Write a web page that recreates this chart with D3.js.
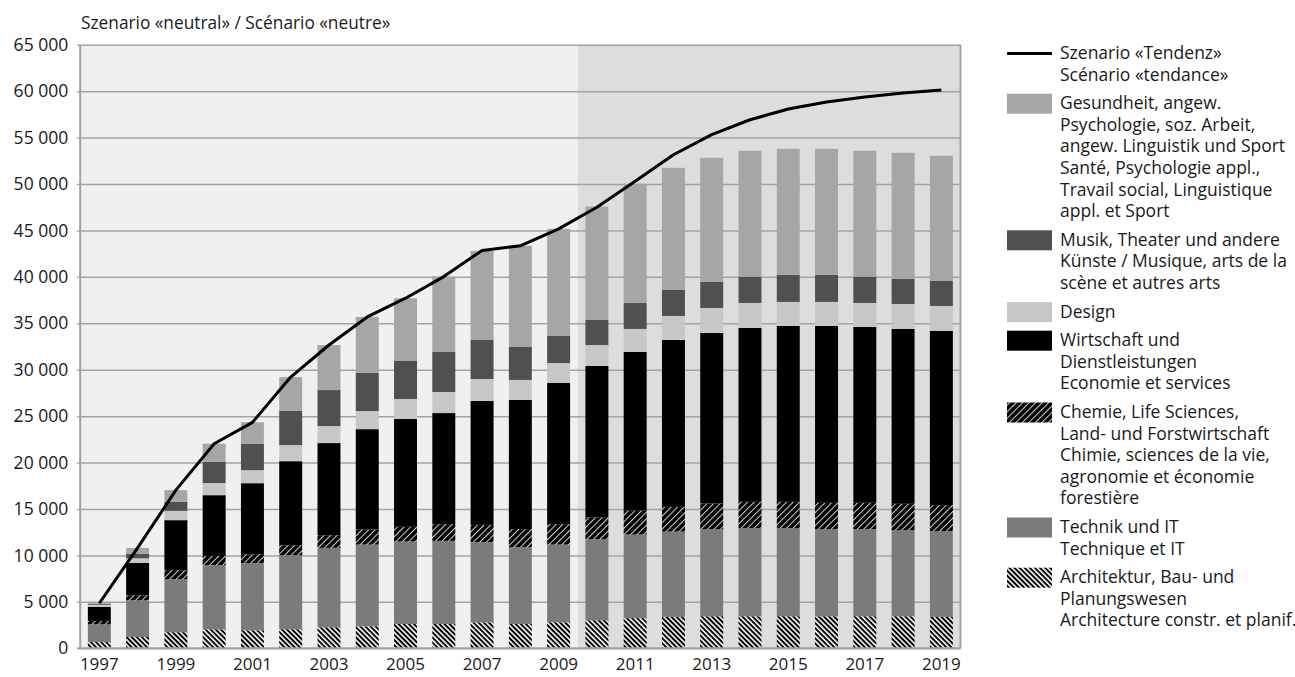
<!DOCTYPE html>
<html>
<head>
<meta charset="utf-8">
<script src="https://cdnjs.cloudflare.com/ajax/libs/d3/7.8.5/d3.min.js"></script>
<style>
    body { margin: 0; background: #ffffff; }
    text { font-family: "Open Sans", sans-serif; fill: #1a1a1a; }
</style>
</head>
<body>
<div id="chart"></div>
<script>
// years on the x axis
var years = ["1997", "1998", "1999", "2000", "2001", "2002", "2003", "2004", "2005", "2006", "2007", "2008",
    "2009", "2010", "2011", "2012", "2013", "2014", "2015", "2016", "2017", "2018", "2019"]
var yearLabels = ["1997", "1999", "2001", "2003", "2005", "2007", "2009", "2011", "2013", "2015", "2017", "2019"]
var yTicks = [0, 5000, 10000, 15000, 20000, 25000, 30000, 35000, 40000, 45000, 50000, 55000, 60000, 65000]

// stacked series, bottom to top
var architektur = [680, 1220, 1730, 2050, 1940, 2050, 2265, 2370, 2620, 2620, 2800, 2620,
    2800, 3020, 3250, 3380, 3450, 3450, 3450, 3450, 3450, 3450, 3380]
var technik = [1910, 3950, 5710, 6900, 7220, 7975, 8550, 8805, 8880, 8950, 8630, 8270,
    8375, 8730, 9010, 9200, 9380, 9490, 9490, 9380, 9380, 9270, 9230]
var chemie = [360, 540, 970, 1000, 970, 1075, 1365, 1615, 1580, 1800, 1860, 1940,
    2195, 2340, 2560, 2650, 2770, 2830, 2830, 2840, 2840, 2840, 2810]
var wirtschaft = [1510, 3480, 5390, 6540, 7650, 9050, 9920, 10810, 11610, 11960, 13340, 13910,
    15200, 16310, 17090, 17970, 18360, 18730, 18940, 19040, 18930, 18830, 18750]
var design = [230, 500, 1000, 1300, 1400, 1730, 1830, 1950, 2150, 2270, 2370, 2160,
    2150, 2260, 2480, 2590, 2690, 2690, 2590, 2590, 2590, 2690, 2700]
var musik = [110, 470, 970, 2300, 2830, 3680, 3880, 4110, 4100, 4310, 4200, 3550,
    2910, 2720, 2820, 2830, 2830, 2830, 2930, 2930, 2830, 2720, 2720]
var gesundheit = [90, 650, 1260, 1940, 2340, 3650, 4850, 6020, 6760, 8120, 9600, 10890,
    11540, 12190, 12810, 13120, 13340, 13560, 13560, 13560, 13560, 13560, 13450]

// scenario "Tendenz" line
var tendenz = [4850, 10810, 17030, 22030, 24330, 29210, 32660, 35680, 37700, 40030, 42850, 43340,
    45170, 47500, 50290, 53150, 55310, 56920, 58070, 58820, 59360, 59790, 60120]

var seriesKeys = ["architektur", "technik", "chemie", "wirtschaft", "design", "musik", "gesundheit"]
var seriesValues = [architektur, technik, chemie, wirtschaft, design, musik, gesundheit]
var seriesFill = {
    architektur: "url(#hatchArch)",
    technik: "#7b7b7b",
    chemie: "url(#hatchChem)",
    wirtschaft: "#000000",
    design: "#c6c7c6",
    musik: "#505050",
    gesundheit: "#a6a6a6"
}

// legend entries, top to bottom
var legendKeys = ["tendenz", "gesundheit", "musik", "design", "wirtschaft", "chemie", "technik", "architektur"]
var legendTexts = [
    ["Szenario «Tendenz»", "Scénario «tendance»"],
    ["Gesundheit, angew.", "Psychologie, soz. Arbeit,", "angew. Linguistik und Sport", "Santé, Psychologie appl.,", "Travail social, Linguistique", "appl. et Sport"],
    ["Musik, Theater und andere", "Künste / Musique, arts de la", "scène et autres arts"],
    ["Design"],
    ["Wirtschaft und", "Dienstleistungen", "Economie et services"],
    ["Chemie, Life Sciences,", "Land- und Forstwirtschaft", "Chimie, sciences de la vie,", "agronomie et économie", "forestière"],
    ["Technik und IT", "Technique et IT"],
    ["Architektur, Bau- und", "Planungswesen", "Architecture constr. et planif."]
]

var title = "Szenario «neutral» / Scénario «neutre»"
var firstForecast = "2010"

function draw() {
    var W = 1295, H = 677
    var left = 80.2, right = 960.5, top = 44.7, bottom = 648.3

    var svg = d3.select("#chart").append("svg")
        .attr("width", W)
        .attr("height", H)

    // hatch patterns
    var defs = svg.append("defs")
    var pa = defs.append("pattern")
        .attr("id", "hatchArch")
        .attr("patternUnits", "userSpaceOnUse")
        .attr("width", 3.6).attr("height", 10)
        .attr("patternTransform", "rotate(-45)")
    pa.append("rect").attr("width", 3.6).attr("height", 10).attr("fill", "#000")
    pa.append("rect").attr("x", 0).attr("width", 1.6).attr("height", 10).attr("fill", "#fff")

    var pc = defs.append("pattern")
        .attr("id", "hatchChem")
        .attr("patternUnits", "userSpaceOnUse")
        .attr("width", 4.6).attr("height", 10)
        .attr("patternTransform", "rotate(45)")
    pc.append("rect").attr("width", 4.6).attr("height", 10).attr("fill", "#000")
    pc.append("rect").attr("x", 0).attr("width", 1).attr("height", 10).attr("fill", "#d4d4d4")

    var x = d3.scaleBand().domain(years).range([left, right]).paddingInner(0.4).paddingOuter(0.2)
    var y = d3.scaleLinear().domain([0, 65000]).range([bottom, top])
    var gapHalf = (x.step() - x.bandwidth()) / 2

    // backgrounds: history and forecast
    var splitX = x(firstForecast) - gapHalf
    svg.append("rect").attr("x", left).attr("y", top).attr("width", splitX - left).attr("height", bottom - top).attr("fill", "#f0f0f0")
    svg.append("rect").attr("x", splitX).attr("y", top).attr("width", right - splitX).attr("height", bottom - top).attr("fill", "#dcdddc")

    // y axis + grid
    var fmt = function (d) { return d3.format(",")(d).replace(/,/g, " ") }
    var yAxis = svg.append("g")
        .attr("transform", "translate(" + left + ",0)")
        .call(d3.axisLeft(y).tickValues(yTicks).tickFormat(fmt).tickSizeInner(-(right - left)).tickSizeOuter(0).tickPadding(12))
    yAxis.select(".domain").remove()
    yAxis.selectAll(".tick line").attr("x1", -3).attr("stroke", "#a3a3a3").attr("stroke-width", 1.5)
    yAxis.selectAll(".tick text").style("font-size", "17.5px").attr("fill", "#1a1a1a")

    // stacked bars
    var table = years.map(function (yr, i) {
        var row = {year: yr}
        seriesKeys.forEach(function (k, j) { row[k] = seriesValues[j][i] })
        return row
    })
    var stack = d3.stack().keys(seriesKeys)(table)
    svg.append("g").selectAll("g")
        .data(stack)
        .join("g")
        .attr("fill", function (d) { return seriesFill[d.key] })
        .selectAll("rect")
        .data(function (d) { return d })
        .join("rect")
        .attr("x", function (d) { return x(d.data.year) })
        .attr("width", x.bandwidth())
        .attr("y", function (d) { return y(d[1]) })
        .attr("height", function (d) { return y(d[0]) - y(d[1]) })

    // frame: left axis, right border
    svg.append("line").attr("x1", left).attr("x2", left).attr("y1", top).attr("y2", bottom + 0.5).attr("stroke", "#a3a3a3").attr("stroke-width", 2)
    svg.append("line").attr("x1", right).attr("x2", right).attr("y1", top).attr("y2", bottom).attr("stroke", "#a3a3a3").attr("stroke-width", 2)

    // x axis
    var xAxis = svg.append("g")
        .attr("transform", "translate(0," + bottom + ")")
        .call(d3.axisBottom(x).tickValues(yearLabels).tickSize(0).tickPadding(10).tickSizeOuter(0))
    xAxis.select(".domain").attr("stroke", "#a3a3a3").attr("stroke-width", 2).attr("d", "M" + (left - 3) + ",0H" + right)
    xAxis.selectAll(".tick text").style("font-size", "17px").attr("fill", "#1a1a1a")

    // Tendenz line
    var line = d3.line()
        .x(function (d, i) { return x(years[i]) + x.bandwidth() / 2 })
        .y(function (d) { return y(d) })
    svg.append("path")
        .datum(tendenz)
        .attr("fill", "none")
        .attr("stroke", "#000")
        .attr("stroke-width", 3)
        .attr("stroke-linejoin", "round")
        .attr("d", line)

    // title
    svg.append("text").attr("x", 81).attr("y", 29).style("font-size", "17.3px").text(title)

    // legend
    var lineH = 21.6, gap = 7, ly = 53.5
    var lg = svg.append("g")
    legendKeys.forEach(function (k, i) {
        if (k == "tendenz") {
            lg.append("line").attr("x1", 1007).attr("x2", 1052).attr("y1", ly).attr("y2", ly).attr("stroke", "#000").attr("stroke-width", 3)
        } else {
            lg.append("rect").attr("x", 1007).attr("y", ly - 10).attr("width", 45).attr("height", 20).attr("fill", seriesFill[k])
        }
        legendTexts[i].forEach(function (t, j) {
            lg.append("text")
                .attr("x", 1060)
                .attr("y", ly + j * lineH + 5.5)
                .style("font-size", "17.5px")
                .text(t)
        })
        ly += legendTexts[i].length * lineH + gap
    })
}

draw()
</script>
</body>
</html>
